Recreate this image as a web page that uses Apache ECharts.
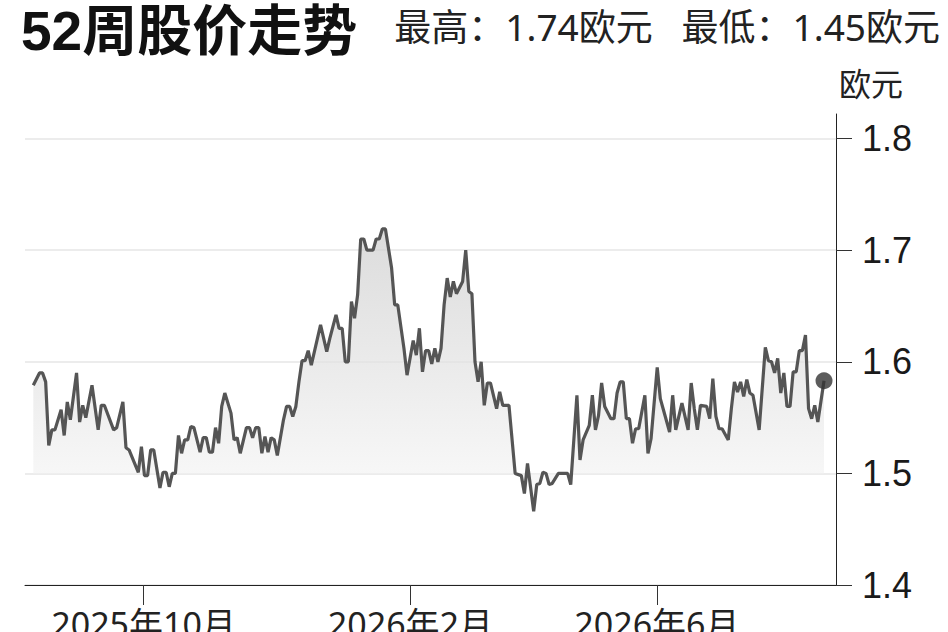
<!DOCTYPE html>
<html><head><meta charset="utf-8">
<script src="https://cdn.jsdelivr.net/npm/echarts@6/dist/echarts.min.js"></script>
<style>html,body{margin:0;padding:0;background:#fff}#c{width:948px;height:632px}</style>
</head><body><div id="c"></div>
<script>
// trading-day index of each point (52 weeks)
const days = [0,2,3,4,5,6,7,9,10,11,12,14,15,16,17,19,21,22,23,26,27,29,30,31,34,35,36,37,38,39,
41,42,43,44,45,46,47,48,49,50,51,52,54,55,56,57,58,59,60,61,62,64,65,66,67,69,70,71,72,73,74,75,76,77,78,79,
81,82,83,84,85,86,87,88,89,90,93,95,96,98,99,100,101,102,103,104,105,106,107,108,110,111,112,113,114,116,117,118,
120,121,123,124,125,126,127,128,129,130,131,132,133,134,135,136,137,139,140,141,142,143,144,145,146,147,148,
150,151,152,154,156,158,159,160,162,163,164,165,166,167,168,170,173,174,176,177,178,180,181,182,183,184,185,
187,188,189,190,191,192,193,194,195,196,198,199,200,202,203,204,206,207,208,209,210,212,213,214,215,216,218,219,
220,221,222,223,225,226,227,228,229,230,231,232,233,235,237,238,239,240,241,242,243,244,245,246,247,248,249,250,
251,252,253,254,256];
// closing price, EUR
const prices = [1.579,1.590,1.590,1.582,1.525,1.539,1.539,1.557,1.534,1.564,1.548,1.590,1.546,1.561,1.550,1.579,1.539,1.561,1.561,1.539,1.541,1.564,1.523,1.521,1.501,1.524,1.498,1.498,1.521,1.521,
1.487,1.501,1.501,1.488,1.500,1.500,1.534,1.518,1.530,1.530,1.542,1.541,1.519,1.532,1.532,1.519,1.519,1.541,1.527,1.560,1.572,1.554,1.530,1.532,1.518,1.541,1.541,1.532,1.541,1.541,1.518,1.533,1.519,1.532,1.530,1.516,
1.548,1.560,1.560,1.551,1.560,1.582,1.601,1.601,1.610,1.597,1.633,1.609,1.621,1.642,1.630,1.630,1.600,1.600,1.654,1.639,1.660,1.710,1.710,1.700,1.700,1.710,1.710,1.719,1.719,1.684,1.651,1.651,
1.612,1.588,1.619,1.606,1.630,1.591,1.610,1.610,1.598,1.612,1.600,1.612,1.651,1.675,1.658,1.672,1.661,1.672,1.700,1.663,1.661,1.600,1.582,1.600,1.561,1.581,1.581,
1.558,1.573,1.561,1.561,1.500,1.498,1.482,1.509,1.466,1.490,1.491,1.501,1.500,1.490,1.491,1.500,1.500,1.490,1.570,1.512,1.530,1.543,1.570,1.539,1.552,1.581,1.560,
1.549,1.549,1.572,1.582,1.582,1.549,1.549,1.527,1.540,1.540,1.570,1.518,1.531,1.595,1.567,1.557,1.537,1.570,1.539,1.551,1.563,1.539,1.581,1.558,1.539,1.561,1.560,1.549,
1.585,1.551,1.540,1.540,1.530,1.558,1.582,1.573,1.582,1.569,1.584,1.572,1.570,1.539,1.613,1.601,1.600,1.590,1.603,1.572,1.590,1.560,1.560,1.591,1.591,1.610,1.610,1.624,
1.558,1.549,1.561,1.546,1.583];
const yTicks = [1.4, 1.5, 1.6, 1.7, 1.8];
const monthTickDays = [35.7, 122.1, 201.9];
const monthLabels = ['2025年10月', '2026年2月', '2026年6月'];
const titleText = '52周股价走势';
const highText = '最高：1.74欧元';
const lowText = '最低：1.45欧元';
const unitText = '欧元';

const NUM = '"Noto Sans","Liberation Sans","Noto Sans CJK SC",sans-serif';
const YNUM = '"Liberation Sans","Noto Sans CJK SC",sans-serif';
const series = days.map((d, i) => [d, prices[i]]);
const last = series[series.length - 1];

const chart = echarts.init(document.getElementById('c'), null, {renderer: 'svg'});
chart.setOption({
  backgroundColor: '#ffffff',
  animation: false,
  grid: {left: 25, right: 112, top: 114, bottom: 47, outerBoundsMode: 'none', containLabel: false},
  graphic: [
    {type: 'text', x: 21, y: 3, style: {text: titleText, font: 'bold 55px "Liberation Sans","Noto Sans CJK SC",sans-serif', fill: '#111', textVerticalAlign: 'top'}},
    {type: 'text', x: 940, y: 8, style: {text: highText + '   ' + lowText, font: '37px ' + NUM, fill: '#222', align: 'right', textVerticalAlign: 'top'}},
    {type: 'text', x: 903, y: 67, style: {text: unitText, font: '32px ' + NUM, fill: '#222', align: 'right', textVerticalAlign: 'top'}}
  ],
  xAxis: {
    type: 'value', min: -2.69, max: 259.88,
    axisLine: {show: true, onZero: false, lineStyle: {color: '#222', width: 1}},
    axisTick: {show: true, length: 20, customValues: monthTickDays, lineStyle: {color: '#333', width: 1}},
    axisLabel: {customValues: monthTickDays, margin: 22, fontSize: 34, fontFamily: NUM, color: '#222',
      formatter: v => { const i = monthTickDays.findIndex(t => Math.abs(t - v) < 0.01); return i >= 0 ? monthLabels[i] : ''; }},
    splitLine: {show: false}
  },
  yAxis: {
    type: 'value', position: 'right', min: 1.4, max: 1.822,
    axisLine: {show: true, onZero: false, lineStyle: {color: '#222', width: 1}},
    axisTick: {show: true, length: 16, customValues: yTicks, lineStyle: {color: '#333', width: 1}},
    axisLabel: {customValues: yTicks, margin: 26, fontSize: 36, fontFamily: YNUM, color: '#1a1a1a', formatter: v => v.toFixed(1)},
    splitLine: {show: true, lineStyle: {color: '#ececec', width: 2}}
  },
  series: [
    {type: 'line', data: series, symbol: 'none', smooth: false,
      lineStyle: {color: '#555555', width: 3.2},
      areaStyle: {origin: 1.5, color: new echarts.graphic.LinearGradient(0, 0, 0, 1, [
        {offset: 0, color: '#cdcdcd'}, {offset: 1, color: '#f9f9f9'}])}, z: 3},
    {type: 'scatter', data: [last], symbol: 'circle', symbolSize: 17, itemStyle: {color: '#333'}, z: 5}
  ]
});
</script></body></html>
